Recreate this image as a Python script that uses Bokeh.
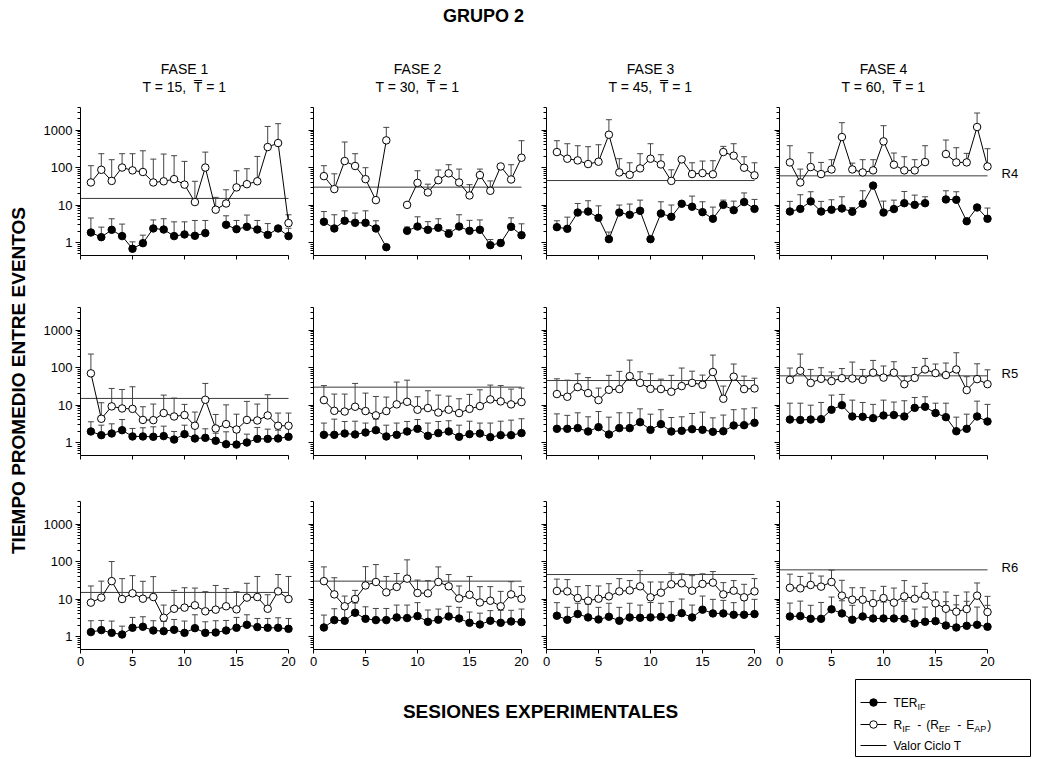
import numpy as np
from bokeh.plotting import figure
from bokeh.layouts import row, column
from bokeh.models import Range1d, FixedTicker, PrintfTickFormatter, CustomJSTickFormatter, ColumnDataSource
from bokeh.core.properties import value
from bokeh.embed import file_html
from bokeh.resources import INLINE

# ---------------- data ----------------
SESSIONS = list(range(1, 21))
X_TICKS = [0, 5, 10, 15, 20]
Y_TICKS = [1, 10, 100, 1000]
PHASES = ["FASE 1", "FASE 2", "FASE 3", "FASE 4"]
CYCLE_T = [15, 30, 45, 60]
T_BAR = 1
ROW_NAMES = ["R4", "R5", "R6"]

R4_F1_TER = [1.85, 1.39, 2.18, 1.48, 0.68, 0.96, 2.37, 2.22, 1.48, 1.64, 1.51, 1.78, None, 2.97, 2.27, 2.62, 2.22, 1.60, 2.37, 1.48]
R4_F1_TER_HI = [4.5, 2.57, 4.3, 3.1, 1.04, 1.57, 4.0, 4.3, 3.56, 3.56, 3.87, 3.87, None, 5.16, 3.87, 5.4, 3.87, 3.2, None, 2.4]
R4_F1_R = [40, 87, 44, 100, 84, 76, 40, 43, 49, 35, 12, 100, 7.5, 11, 29.5, 36, 43, 352, 450, 3.3]
R4_F1_R_HI = [112, 234, 162, 234, 234, 280, 168, 229, 207, 146, 43, 258, 16, 25.5, 82, 93, 198, 1250, 1480, 5.5]

R4_F2_TER = [3.57, 2.37, 3.79, 3.35, 3.35, 2.37, 0.75, None, 2.05, 2.67, 2.18, 2.47, 1.71, 2.67, 2.05, 2.18, 0.85, 0.97, 2.62, 1.57]
R4_F2_TER_HI = [6.7, 5.5, 7.0, 6.1, 7.0, 3.8, None, None, 2.6, 4.85, 3.6, 4.3, 2.2, 5.5, 3.9, 4.0, 1.2, 1.2, 4.55, 3.15]
R4_F2_R = [59, 26.6, 149, 110, 49, 13.5, 531, None, 10.1, 39, 21.7, 46, 70, 40, 18, 63, 24, 107, 48, 183]
R4_F2_R_HI = [112, 68, 480, 234, 99, None, 1180, None, None, 82, 36, 86, 119, 91, 35, 91, 44, None, 119, 520]

R4_F3_TER = [2.57, 2.32, 6.3, 6.7, 4.56, 1.23, 6.3, 5.5, 7.0, 1.23, 5.95, 4.85, 10.8, 9.0, 6.46, 4.3, 10.1, 7.3, 12, 7.9]
R4_F3_TER_HI = [3.8, 4.75, 11, 13, 9.5, 1.9, 10, 10.6, 13.5, None, 12.2, 10, 11.5, 17.3, 12.2, 8.8, 13.5, 12.7, 21, 14.1]
R4_F3_R = [259, 172, 155, 124, 143, 752, 74, 64, 95, 172, 121, 44, 165, 67, 71, 66, 259, 207, 99, 62]
R4_F3_R_HI = [520, 432, 382, 360, 406, 1890, 172, 134, 234, 432, 220, 87, None, 134, 149, 152, 367, 432, 194, 134]

R4_F4_TER = [6.7, 7.9, 12.5, 6.7, 7.5, 8.1, 6.6, 10.8, 33, 6.3, 7.8, 11.2, 10.1, 11.2, None, 14.1, 13.8, 3.7, 8.6, 4.3]
R4_F4_TER_HI = [12.5, 18.8, 22.6, 12.5, 13.8, 16.6, 8.6, 24, None, 12.7, 13.5, 23, 18.4, 16.6, None, 24, 22.6, None, None, 8.3]
R4_F4_R = [137, 40, 103, 67, 89, 651, 89, 74, 84, 499, 119, 84, 84, 140, None, 229, 137, 137, 1206, 107]
R4_F4_R_HI = [382, 91, 248, 137, 162, 1573, 131, 162, 162, 1308, 244, 194, 162, 382, None, 542, 338, 239, 2850, 318]

R5_F1_TER = [1.97, 1.57, 1.74, 2.13, 1.45, 1.45, 1.42, 1.48, 1.2, 1.67, 1.28, 1.33, 1.11, 0.9, 0.88, 1.0, 1.25, 1.25, 1.28, 1.42]
R5_F1_TER_HI = [3.57, 2.9, 3.15, 4.1, 2.37, 2.47, 2.62, 2.73, 1.97, 2.9, 2.57, 2.32, 1.77, 1.93, 1.85, 1.67, 2.52, 2.27, 2.13, 2.62]
R5_F1_R = [70, 4.3, 9.2, 8.1, 7.9, 4.0, 3.95, 6.1, 4.95, 5.4, 2.8, 13.8, 2.37, 3.09, 2.22, 4.0, 3.87, 5.26, 2.8, 2.8]
R5_F1_R_HI = [229, 11.5, 27.7, 26, 30.7, 9, 10.6, 18.4, 15.3, 10.4, 6.5, 37.7, 5.6, 10.1, 5.7, 12.5, 10.6, 18.8, 6.1, 6.1]

R5_F2_TER = [1.6, 1.6, 1.74, 1.64, 1.85, 2.13, 1.45, 1.6, 1.97, 2.32, 1.51, 1.78, 1.97, 1.42, 1.67, 1.74, 1.39, 1.57, 1.57, 1.78]
R5_F2_TER_HI = [3.3, 4.2, 3.64, 3.7, 3.3, 4.2, 2.9, 3.3, 3.64, 4.1, 3.3, 3.64, 3.8, 2.9, 3.7, 3.3, 3.3, 3.7, 3.95, 4.3]
R5_F2_R = [13.5, 7.0, 6.7, 9.0, 6.9, 5.3, 6.9, 10.4, 12.2, 7.5, 8.3, 6.3, 7.5, 6.1, 7.9, 9.35, 14.1, 12.5, 10.4, 12]
R5_F2_R_HI = [33, 19.6, 19.6, 37.7, 20.8, 16.9, 16.3, 41, 46, 16.6, 24, 18.4, 17.3, 14.7, 19.2, 25.5, 34, 33, 26.6, 28.3]

R5_F3_TER = [2.32, 2.32, 2.42, 1.97, 2.57, 1.64, 2.42, 2.42, 3.49, 2.18, 3.09, 1.97, 2.05, 2.27, 2.18, 1.93, 2.0, 2.85, 2.9, 3.35]
R5_F3_TER_HI = [5.8, 5.3, 6.2, 4.85, 6.7, 4.75, 6.2, 6.2, 7.9, 5.7, 7.5, 4.65, 4.85, 5.95, 6.46, 4.55, 5.4, 7.5, 7.9, 8.4]
R5_F3_R = [19.6, 16.6, 30, 20.8, 13.5, 25.5, 26.6, 59, 39, 27, 26.6, 22.6, 32, 39, 34.7, 76, 14.7, 57, 26.6, 27.7]
R5_F3_R_HI = [50, 46, 68, 54, 28.3, 62, 79, 158, 77, 68, 49, 62, 97, 80, 63, 215, 32, 124, 59, 52]

R5_F4_TER = [4.1, 4.0, 4.1, 4.2, 7.5, 9.9, 4.95, 4.85, 4.47, 5.26, 5.4, 4.95, 8.4, 9.0, 6.1, 4.75, 2.0, 2.32, 4.95, 3.64]
R5_F4_TER_HI = [11.2, 11.2, 9.9, 11.7, 18.4, 19.2, 13.5, 11.7, 10.4, 13.5, 12, 13, 15.9, 16.6, 11.2, 11.2, 4.75, 5.7, 12.7, 10.4]
R5_F4_R = [47, 82, 39, 50, 43.5, 52, 51, 47, 73, 54, 73, 36, 53, 89, 71, 63, 89, 25, 49, 36]
R5_F4_R_HI = [97, 229, 89, 99, 76, 94, 140, 89, 155, 110, 143, 58, 100, 175, 124, 132, 248, 57, 126, 87]

R6_F1_TER = [1.31, 1.48, 1.25, 1.13, 1.71, 1.82, 1.45, 1.39, 1.51, 1.25, 1.67, 1.25, 1.28, 1.45, 1.71, 2.05, 1.78, 1.71, 1.71, 1.6]
R6_F1_TER_HI = [2.63, 2.68, 2.58, 1.89, 3.23, 3.36, 2.63, 2.52, 2.85, 2.58, 3.8, 2.47, 2.63, 2.68, 3.23, 3.8, 3.03, 3.03, 3.16, 3.03]
R6_F1_R = [8.0, 10.9, 30, 10, 14.2, 10.2, 11.3, 3.16, 5.5, 5.9, 6.8, 4.7, 5.2, 6.4, 5.3, 10.9, 11.3, 5.5, 16, 10]
R6_F1_R_HI = [22.3, 30, 100, 35, 42, 29.7, 39.6, 6.9, 17, 20, 19.6, 15.7, 23, 19, 15.7, 26.3, 40, 13, 45, 40]

R6_F2_TER = [1.74, 2.74, 2.63, 4.3, 2.97, 2.74, 2.74, 3.23, 3.1, 3.5, 2.47, 2.8, 3.43, 3.03, 2.32, 2.1, 2.63, 2.32, 2.52, 2.42]
R6_F2_TER_HI = [3.73, 5.5, 5.3, 7.8, 6.2, 5.6, 5.6, 6.9, 6.9, 8.0, 5.1, 5.4, 6.4, 6.0, 4.5, 4.2, 4.9, 5.0, 5.0, 5.4]
R6_F2_R = [30, 13.3, 6.4, 10, 23, 28.5, 15.1, 21, 35, 14.5, 14.2, 28.5, 21.8, 10.4, 13, 8.1, 9.0, 6.4, 13.3, 10.2]
R6_F2_R_HI = [72, 37, 12, 17, 73, 83, 40, 48, 111, 32, 31, 72, 45, 22.3, 40, 21.4, 21.4, 16, 29, 21.4]

R6_F3_TER = [3.58, 2.8, 3.97, 3.23, 2.85, 3.36, 2.63, 3.23, 3.16, 3.23, 3.36, 3.16, 4.2, 3.23, 5.2, 4.13, 4.13, 3.8, 3.8, 3.97]
R6_F3_TER_HI = [8.0, 6.0, 7.7, 7.2, 6.0, 7.7, 6.0, 7.7, 6.9, 8.1, 7.7, 8.5, 10, 6.9, 12, 9.8, 9.2, 8.0, 9.2, 9.8]
R6_F3_R = [16.4, 16, 10.6, 9.0, 10.2, 11.8, 16, 17, 21.8, 11.1, 14.8, 24.7, 26.3, 16.7, 25.3, 27.4, 13.3, 16.7, 11.1, 16]
R6_F3_R_HI = [34, 33, 21.4, 22.8, 22.3, 25.7, 35, 31, 57, 28.5, 28.5, 50, 47, 42, 47, 54, 27.4, 31, 24.7, 35]

R6_F4_TER = [3.43, 3.5, 2.97, 2.97, 5.3, 4.13, 2.8, 3.43, 3.03, 3.03, 3.03, 2.97, 2.23, 2.47, 2.57, 1.97, 1.74, 1.93, 2.05, 1.82]
R6_F4_TER_HI = [7.8, 8.8, 6.8, 8.1, 11.3, 9.0, 6.8, 8.5, 8.1, 8.3, 8.3, 8.7, 5.4, 6.1, 8.5, 8.5, 7.0, 8.7, 6.1, 6.8]
R6_F4_R = [20, 19.3, 23.7, 21.4, 28.5, 12.3, 9.6, 9.6, 7.8, 10.6, 8.0, 11.8, 10.2, 12.3, 7.7, 5.5, 4.6, 5.4, 12.3, 4.5]
R6_F4_R_HI = [46, 40, 49, 41, 59, 31.6, 20, 20, 16.7, 21.8, 19.6, 31, 21.8, 26.3, 15.4, 15.4, 12.5, 15.4, 26.8, 11.8]

PANEL_DATA = [
    [(R4_F1_TER, R4_F1_TER_HI, R4_F1_R, R4_F1_R_HI), (R4_F2_TER, R4_F2_TER_HI, R4_F2_R, R4_F2_R_HI),
     (R4_F3_TER, R4_F3_TER_HI, R4_F3_R, R4_F3_R_HI), (R4_F4_TER, R4_F4_TER_HI, R4_F4_R, R4_F4_R_HI)],
    [(R5_F1_TER, R5_F1_TER_HI, R5_F1_R, R5_F1_R_HI), (R5_F2_TER, R5_F2_TER_HI, R5_F2_R, R5_F2_R_HI),
     (R5_F3_TER, R5_F3_TER_HI, R5_F3_R, R5_F3_R_HI), (R5_F4_TER, R5_F4_TER_HI, R5_F4_R, R5_F4_R_HI)],
    [(R6_F1_TER, R6_F1_TER_HI, R6_F1_R, R6_F1_R_HI), (R6_F2_TER, R6_F2_TER_HI, R6_F2_R, R6_F2_R_HI),
     (R6_F3_TER, R6_F3_TER_HI, R6_F3_R, R6_F3_R_HI), (R6_F4_TER, R6_F4_TER_HI, R6_F4_R, R6_F4_R_HI)],
]

# ---------------- layout / style ----------------
FONT = "Liberation Sans"
PX_PER_SESSION = 10.4
FRAME_W = 213
FRAME_H = 148
X_END = FRAME_W / PX_PER_SESSION
Y_LO, Y_HI = 0.45, 4000.0
COL_LEFT = [42, 14, 14, 14]
COL_RIGHT = 6
ROW_TOP = [4, 42, 36]
ROW_BOTTOM = [10, 10, 26]
LEFT_W = 38
RIGHT_W = 37
HEADER_H = 103
FOOTER_H = 83
TOTAL_W = LEFT_W + sum(COL_LEFT) + 4 * (FRAME_W + COL_RIGHT) + RIGHT_W
MID_H = sum(ROW_TOP) + sum(ROW_BOTTOM) + 3 * FRAME_H
INK = "black"
BAR = "#454545"

MINOR = [m * 10.0 ** e for e in range(-1, 4) for m in range(2, 10) if Y_LO <= m * 10.0 ** e <= Y_HI]


def arr(v):
    return np.array([np.nan if a is None else a for a in v], dtype=float)


def make_panel(r, c):
    ter, ter_hi, rr, rr_hi = PANEL_DATA[r][c]
    p = figure(frame_width=FRAME_W, frame_height=FRAME_H,
               min_border_left=COL_LEFT[c], min_border_right=COL_RIGHT,
               min_border_top=ROW_TOP[r], min_border_bottom=ROW_BOTTOM[r],
               x_range=Range1d(0, X_END), y_range=Range1d(Y_LO, Y_HI),
               y_axis_type="log", output_backend="svg", toolbar_location=None,
               background_fill_color="white", border_fill_color="white")
    p.grid.visible = False
    p.outline_line_color = None

    xa = p.xaxis[0]
    xa.ticker = FixedTicker(ticks=X_TICKS, minor_ticks=[])
    xa.bounds = (X_TICKS[0], X_TICKS[-1])
    xa.axis_line_color = INK
    xa.major_tick_line_color = INK
    xa.major_tick_in = 0
    xa.major_tick_out = 4
    xa.minor_tick_in = 0
    xa.minor_tick_out = 0
    xa.major_label_standoff = 3
    if r == 2:
        xa.major_label_text_font = FONT
        xa.major_label_text_font_size = "13px"
        xa.major_label_text_color = INK
    else:
        xa.formatter = CustomJSTickFormatter(code="return ''")
        xa.major_label_text_font_size = "0px"

    ya = p.yaxis[0]
    ya.ticker = FixedTicker(ticks=Y_TICKS, minor_ticks=MINOR)
    ya.axis_line_color = INK
    ya.major_tick_line_color = INK
    ya.minor_tick_line_color = INK
    ya.major_tick_in = 0
    ya.major_tick_out = 5
    ya.minor_tick_in = 0
    ya.minor_tick_out = 3
    ya.major_label_standoff = 3
    if c == 0:
        ya.formatter = PrintfTickFormatter(format="%d")
        ya.major_label_text_font = FONT
        ya.major_label_text_font_size = "13px"
        ya.major_label_text_color = INK
    else:
        ya.formatter = CustomJSTickFormatter(code="return ''")
        ya.major_label_text_font_size = "0px"

    src = ColumnDataSource(dict(x=SESSIONS, ter=arr(ter), ter_hi=arr(ter_hi), r=arr(rr), r_hi=arr(rr_hi)))
    T = CYCLE_T[c]
    p.line(x=[X_TICKS[0], SESSIONS[-1]], y=[T, T], line_color="#3a3a3a", line_width=1)
    for v, hi in (("r", "r_hi"), ("ter", "ter_hi")):
        p.segment(x0="x", y0=v, x1="x", y1=hi, source=src, line_color=BAR, line_width=1)
        p.scatter(x="x", y=hi, marker="dash", size=6, source=src, line_color=BAR, line_width=1)
    p.line(x="x", y="r", source=src, line_color=INK, line_width=1)
    p.line(x="x", y="ter", source=src, line_color=INK, line_width=1)
    p.scatter(x="x", y="r", size=7.5, source=src, fill_color="white", line_color=INK, line_width=1)
    p.scatter(x="x", y="ter", size=7.5, source=src, fill_color=INK, line_color=INK, line_width=1)
    return p


def text_fig(w, h):
    p = figure(width=w, height=h, x_range=Range1d(0, w), y_range=Range1d(0, h),
               x_axis_type=None, y_axis_type=None, toolbar_location=None, output_backend="svg",
               min_border_left=0, min_border_right=0, min_border_top=0, min_border_bottom=0,
               background_fill_color="white", border_fill_color="white")
    p.outline_line_color = None
    return p


def put_text(p, h, x, y_top, txt, size, bold=False, align="center", angle=0.0):
    p.text(x=[x], y=[h - y_top], text=[txt], angle=angle,
           text_font=value(FONT), text_font_size=size,
           text_font_style="bold" if bold else "normal",
           text_align=align, text_baseline="middle", text_color=INK)


# column frame centres (relative to page left)
col_left_edges = []
acc = LEFT_W
for c in range(4):
    col_left_edges.append(acc + COL_LEFT[c])
    acc += COL_LEFT[c] + FRAME_W + COL_RIGHT
col_centres = [e + 10 * PX_PER_SESSION for e in col_left_edges]

# header
header = text_fig(TOTAL_W, HEADER_H)
put_text(header, HEADER_H, 483, 15, "GRUPO 2", "18px", bold=True)
for c in range(4):
    put_text(header, HEADER_H, col_centres[c], 68, PHASES[c], "14px")
    put_text(header, HEADER_H, col_centres[c], 86, f"T = {CYCLE_T[c]},\u00a0 T\u0305 = {T_BAR}", "14px")

# left label
left = text_fig(LEFT_W, MID_H)
put_text(left, MID_H, 18, 380 - HEADER_H, "TIEMPO PROMEDIO ENTRE EVENTOS", "19px", bold=True, angle=np.pi / 2)

# right labels
right = text_fig(RIGHT_W, MID_H)
top_acc = 0
for r in range(3):
    frame_top = top_acc + ROW_TOP[r]
    put_text(right, MID_H, 3, frame_top + 66, ROW_NAMES[r], "13px", align="left")
    top_acc += ROW_TOP[r] + FRAME_H + ROW_BOTTOM[r]

# footer: axis title and legend
footer = text_fig(TOTAL_W, FOOTER_H)
put_text(footer, FOOTER_H, 540, 36, "SESIONES EXPERIMENTALES", "19px", bold=True)

CW = {'T': .611, 'E': .667, 'R': .722, 'I': .278, 'F': .611, 'A': .667, 'P': .667, ' ': .278,
      '-': .333, '(': .333, ')': .333}


def tw(s, size):
    return sum(CW.get(ch, .556) for ch in s) * size


LEG_L, LEG_R, LEG_T, LEG_B = 855, 1030, 4, 81
ITEM_Y = [27, 49, 70]
SAMPLE_X0, SAMPLE_X1, MARK_X, TEXT_X = 860, 886, 873, 893
MAIN, SUB = 12.0, 9.0
footer.quad(left=[LEG_L], right=[LEG_R], bottom=[FOOTER_H - LEG_B], top=[FOOTER_H - LEG_T],
            fill_color=None, line_color=INK, line_width=1)
footer.segment(x0=[SAMPLE_X0] * 3, x1=[SAMPLE_X1] * 3,
               y0=[FOOTER_H - y for y in ITEM_Y], y1=[FOOTER_H - y for y in ITEM_Y],
               line_color=INK, line_width=1)
footer.scatter(x=[MARK_X], y=[FOOTER_H - ITEM_Y[0]], size=7.5, fill_color=INK, line_color=INK)
footer.scatter(x=[MARK_X], y=[FOOTER_H - ITEM_Y[1]], size=7.5, fill_color="white", line_color=INK)


def rich(p, x, y_top, parts):
    for txt, sub, gap in parts:
        x += gap
        size = SUB if sub else MAIN
        put_text(p, FOOTER_H, x, y_top + (4 if sub else 0), txt, f"{size}px", align="left")
        x += tw(txt, size)


rich(footer, TEXT_X, ITEM_Y[0], [("TER", False, 0), ("IF", True, 0)])
rich(footer, TEXT_X, ITEM_Y[1], [("R", False, 0), ("IF", True, 0), ("-", False, 7), ("(R", False, 5),
                                 ("EF", True, 0), ("-", False, 7), ("E", False, 5), ("AP", True, 0),
                                 (")", False, 1)])
put_text(footer, FOOTER_H, TEXT_X, ITEM_Y[2], "Valor Ciclo T", "12px", align="left")

panels = [[make_panel(r, c) for c in range(4)] for r in range(3)]
grid = column(*[row(*panels[r]) for r in range(3)])
page = column(header, row(left, grid, right), footer)

open("out.html", "w").write(file_html(page, INLINE))
